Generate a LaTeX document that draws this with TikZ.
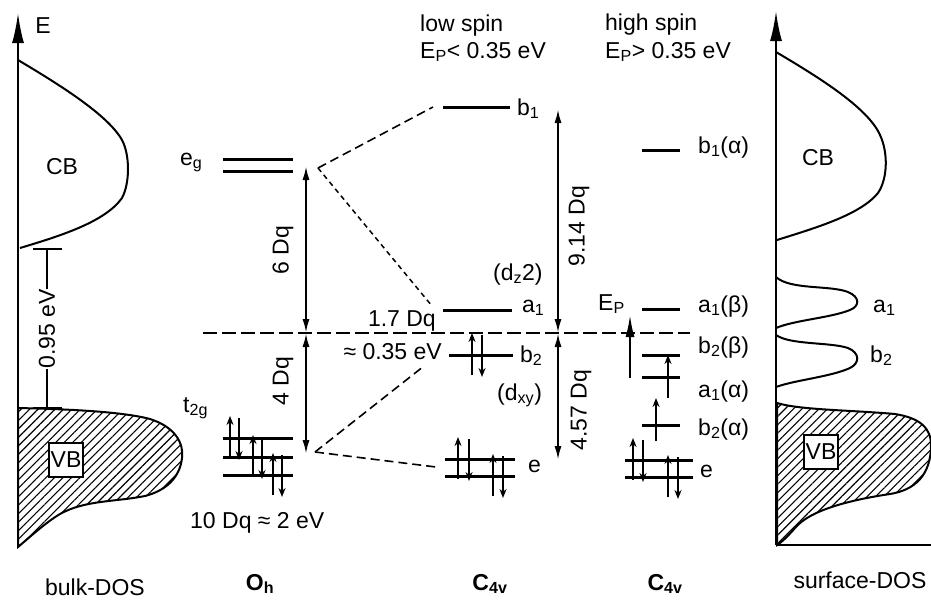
\documentclass[tikz,border=0pt]{standalone}
\usepackage{fontspec}
\setmainfont{Liberation Sans}
\usetikzlibrary{arrows.meta,patterns.meta}
\newcommand{\spinup}[2]{\draw[spinarr] (#1,#2+20) -- (#1,#2-22);}
\newcommand{\spindown}[2]{\draw[spinarr] (#1,#2-20) -- (#1,#2+22);}
\begin{document}
\begin{tikzpicture}[x=1pt,y=-1pt,
 lvl/.style={line width=3pt},
 crv/.style={line width=2pt},
 lab/.style={font=\fontsize{23}{27}\selectfont,inner sep=0pt,anchor=base west},
 rlab/.style={font=\fontsize{23}{27}\selectfont,inner sep=0pt,rotate=90},
 spinarr/.style={line width=1.8pt,-{Stealth[length=9pt,width=7pt]}},
 dblarr/.style={line width=2pt,{Latex[length=14pt,width=7pt]}-{Latex[length=14pt,width=7pt]}},
 axarr/.style={line width=2.2pt,-{Latex[length=30pt,width=12pt]}},
 barydash/.style={line width=2pt,dash pattern=on 14pt off 5pt},
 conA/.style={line width=1.6pt,dash pattern=on 9pt off 5pt},
 conB/.style={line width=1.5pt,dash pattern=on 5pt off 4pt},
 hatch/.style={pattern={Lines[angle=45,distance=6pt,line width=1.1pt]}},
 vbbox/.style={draw,line width=2pt,fill=white,inner sep=0pt,minimum width=34pt,minimum height=34pt,font=\fontsize{23}{27}\selectfont}
]
\useasboundingbox (0,0) rectangle (931,600);
\clip (0,0) rectangle (931,600);

% ---------------- left: bulk DOS ----------------
\coordinate (LB) at (18,547);
\coordinate (LT) at (18,13);
\draw[axarr] (LB) -- (LT);
\node[lab,anchor=center] (Elab) at (43,26) {E};
\draw[crv] (18,60) .. controls (60,85) and (108,115) .. (122,140)
  .. controls (130,155) and (130,183) .. (122,198)
  .. controls (105,222) and (60,236) .. (20,248);
\node[lab,anchor=center] (CBl) at (62,167) {CB};
% 0.95 eV marker
\coordinate (g1) at (47,249);
\coordinate (g2) at (47,408);
\draw[crv] (33,249) -- (62,249);
\draw[crv] (33,408) -- (62,408);
\node[rlab] (gap) at (47,329) {0.95 eV};
\draw[crv] (g1) -- (gap.east);
\draw[crv] (gap.west) -- (g2);
% VB
\draw[crv,hatch] (18,408) .. controls (60,409) and (120,411) .. (150,419)
  .. controls (175,427) and (184,443) .. (182,458)
  .. controls (180,476) and (168,490) .. (145,496)
  .. controls (115,502) and (85,500) .. (60,514)
  .. controls (45,523) and (30,537) .. (18,547) -- cycle;
\node[vbbox] (VBl) at (66,460) {VB};

% ---------------- O_h ----------------
\draw[lvl] (223,159) -- (293,159);
\draw[lvl] (223,171) -- (293,171);
\node[lab] (eg) at (180,165) {e\textsubscript{g}};
\draw[lvl] (223,438) -- (293,438);
\draw[lvl] (223,457) -- (293,457);
\draw[lvl] (223,475) -- (293,475);
\node[lab] (t2g) at (183,412) {t\textsubscript{2g}};
\spinup{230}{438} \spindown{239}{438}
\spinup{253}{457} \spindown{262}{457}
\spinup{273}{475} \spindown{282}{475}
\node[lab] (tenDq) at (190,528) {10 Dq ≈ 2 eV};
% splitting arrows
\coordinate (ohT) at (306,166);
\coordinate (ohM) at (306,333);
\coordinate (ohB) at (306,454);
\draw[dblarr] (ohM) -- (ohT);
\draw[dblarr] (ohM) -- (ohB);
\node[rlab] (sixDq) at (283,250) {6 Dq};
\node[rlab] (fourDq) at (283,381) {4 Dq};

% barycentre line
\coordinate (bcL) at (203,333);
\coordinate (bcR) at (690,333);
\draw[barydash] (bcL) -- (bcR);

% connectors
\coordinate (egA) at (318,168);
\coordinate (b1L) at (433,107);
\coordinate (a1L) at (432,306);
\coordinate (tA) at (315,452);
\coordinate (b2L) at (424,366);
\coordinate (eL) at (436,467);
\draw[conA] (egA) -- (b1L);
\draw[conB] (egA) -- (a1L);
\draw[conA] (tA) -- (b2L);
\draw[conA] (tA) -- (eL);

% ---------------- C4v low spin ----------------
\node[lab] (ls1) at (420,31) {low spin};
\node[lab] (ls2) at (420,58) {E\textsubscript{P}< 0.35 eV};
\draw[lvl] (443,107) -- (510,107);
\node[lab] (b1) at (517,115) {b\textsubscript{1}};
\draw[lvl] (443,310) -- (512,310);
\node[lab] (a1) at (522,312) {a\textsubscript{1}};
\node[lab] (dz) at (493,280) {(d\textsubscript{z}2)};
\node[lab,anchor=base east] (sevDq) at (436,326) {1.7 Dq};
\draw[lvl] (449,355) -- (513,355);
\node[lab] (b2) at (520,362) {b\textsubscript{2}};
\node[lab,anchor=base east] (p35) at (442,359) {≈ 0.35 eV};
\spinup{472}{355} \spindown{482}{355}
\node[lab] (dxy) at (497,400) {(d\textsubscript{xy})};
\draw[lvl] (445,459) -- (515,459);
\draw[lvl] (445,476) -- (515,476);
\spinup{458}{459} \spindown{469}{459}
\spinup{493}{476} \spindown{503}{476}
\node[lab] (elow) at (528,472) {e};
% splitting arrows
\coordinate (lsT) at (558,109);
\coordinate (lsM) at (558,333);
\coordinate (lsB) at (558,460);
\draw[dblarr] (lsM) -- (lsT);
\draw[dblarr] (lsM) -- (lsB);
\node[rlab] (ninDq) at (579,226) {9.14 Dq};
\node[rlab] (fivDq) at (581,410) {4.57 Dq};

% ---------------- C4v high spin ----------------
\node[lab] (hs1) at (605,30) {high spin};
\node[lab] (hs2) at (605,58) {E\textsubscript{P}> 0.35 eV};
\draw[lvl] (642,150) -- (680,150);
\node[lab] (b1a) at (698,153) {b\textsubscript{1}(α)};
\draw[lvl] (642,309) -- (680,309);
\node[lab] (a1b) at (698,312) {a\textsubscript{1}(β)};
\draw[lvl] (642,355) -- (680,355);
\node[lab] (b2b) at (698,353) {b\textsubscript{2}(β)};
\draw[lvl] (642,377) -- (680,377);
\node[lab] (a1a) at (698,397) {a\textsubscript{1}(α)};
\draw[lvl] (642,425) -- (680,425);
\node[lab] (b2a) at (698,435) {b\textsubscript{2}(α)};
\draw[spinarr] (668,398) -- (668,355);
\draw[spinarr] (656,441) -- (656,398);
\draw[lvl] (625,460) -- (693,460);
\draw[lvl] (625,477) -- (693,477);
\spinup{633}{460} \spindown{643}{460}
\spinup{668}{477} \spindown{678}{477}
\node[lab] (ehigh) at (700,477) {e};
\node[lab] (Ep) at (598,310) {E\textsubscript{P}};
\coordinate (epB) at (630,378);
\coordinate (epT) at (630,315);
\draw[line width=2pt,-{Latex[length=22pt,width=9pt]}] (epB) -- (epT);

% ---------------- right: surface DOS ----------------
\coordinate (RB) at (776,545);
\coordinate (RT) at (776,11);
\coordinate (RX) at (931,545);
\draw[axarr] (RB) -- (RT);
\draw[crv] (RB) -- (RX);
\draw[crv] (776,52) .. controls (820,78) and (868,108) .. (880,135)
  .. controls (888,152) and (888,178) .. (878,193)
  .. controls (860,215) and (815,228) .. (777,240);
\node[lab,anchor=center] (CBr) at (818,158) {CB};
\draw[crv] (776,277) .. controls (790,290) and (830,285) .. (848,292)
  .. controls (860,297) and (860,306) .. (850,310)
  .. controls (830,318) and (795,320) .. (776,328);
\draw[crv] (776,335) .. controls (790,345) and (830,342) .. (848,348)
  .. controls (860,353) and (860,363) .. (850,368)
  .. controls (830,377) and (795,380) .. (776,387);
\node[lab] (a1r) at (873,312) {a\textsubscript{1}};
\node[lab] (b2r) at (870,362) {b\textsubscript{2}};
\draw[crv,hatch] (777,403) .. controls (800,410) and (850,410) .. (895,414)
  .. controls (920,418) and (931,428) .. (931,445)
  .. controls (931,475) and (915,490) .. (890,494)
  .. controls (850,500) and (810,510) .. (795,528)
  .. controls (788,536) and (782,542) .. (777,545) -- cycle;
\node[vbbox] (VBr) at (821,452) {VB};

% ---------------- bottom labels ----------------
\node[lab,anchor=base] (bulk) at (95,595) {bulk-DOS};
\node[lab,anchor=base,font=\fontsize{23}{27}\selectfont\bfseries] (Oh) at (260,590) {O\textsubscript{h}};
\node[lab,anchor=base,font=\fontsize{23}{27}\selectfont\bfseries] (C1) at (490,590) {C\textsubscript{4v}};
\node[lab,anchor=base,font=\fontsize{23}{27}\selectfont\bfseries] (C2) at (665,590) {C\textsubscript{4v}};
\node[lab,anchor=base] (surf) at (860,588) {surface-DOS};
\end{tikzpicture}
\end{document}
